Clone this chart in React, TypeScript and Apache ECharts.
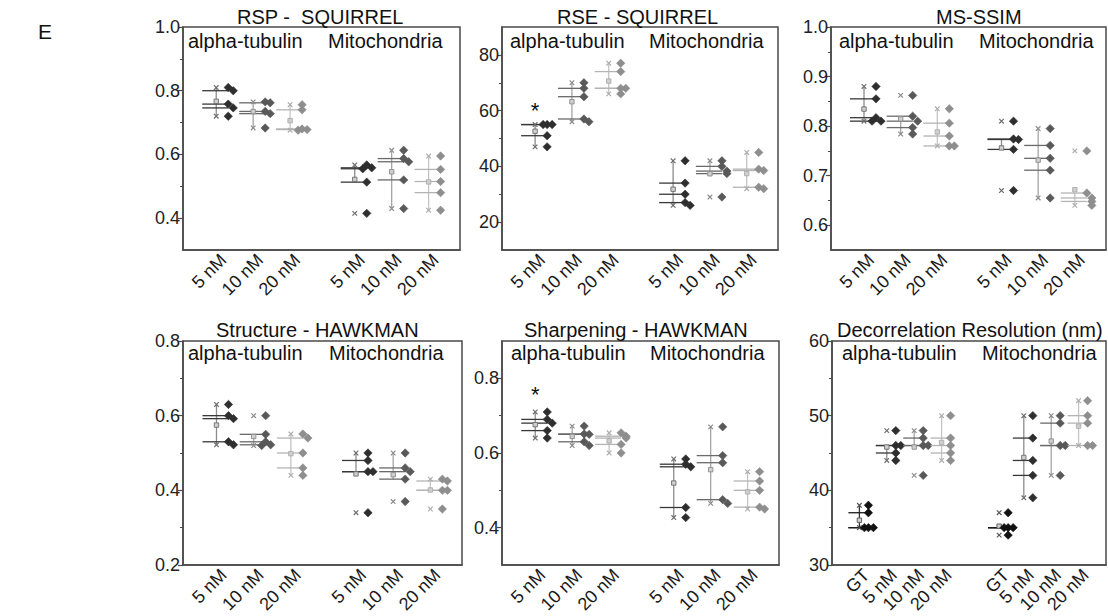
import React, { useEffect, useRef } from 'react';
import * as echarts from 'echarts';

const FONT = '"Liberation Sans", Arial, Helvetica, sans-serif';

// ---------- categories / labels ----------
const concLabels = ['5 nM', '10 nM', '20 nM', '5 nM', '10 nM', '20 nM'];
const decorLabels = ['GT', '5 nM', '10 nM', '20 nM', 'GT', '5 nM', '10 nM', '20 nM'];
const groupNames = ['alpha-tubulin', 'Mitochondria'];
const panelTitles = [
  'RSP -  SQUIRREL',
  'RSE - SQUIRREL',
  'MS-SSIM',
  'Structure - HAWKMAN',
  'Sharpening - HAWKMAN',
  'Decorrelation Resolution (nm)',
];

// ---------- values (order: alpha 5/10/20 nM, mito 5/10/20 nM) ----------
const rspSquirrel = [
  [0.81, 0.8, 0.758, 0.746, 0.72],
  [0.765, 0.762, 0.735, 0.728, 0.683],
  [0.756, 0.74, 0.68, 0.678, 0.676],
  [0.567, 0.558, 0.555, 0.513, 0.415],
  [0.613, 0.587, 0.577, 0.52, 0.43],
  [0.595, 0.553, 0.515, 0.48, 0.425],
];
const rseSquirrel = [
  [55, 55, 55, 51, 47],
  [70, 68, 65, 57, 56],
  [77, 74, 68, 68, 66],
  [42, 34, 30, 27, 26],
  [42, 40, 38.3, 37.4, 29],
  [45, 39, 38.5, 32.5, 32],
];
const msSsim = [
  [0.88, 0.855, 0.817, 0.81, 0.81],
  [0.862, 0.82, 0.81, 0.797, 0.784],
  [0.835, 0.806, 0.78, 0.76, 0.76],
  [0.81, 0.774, 0.773, 0.753, 0.67],
  [0.795, 0.761, 0.735, 0.711, 0.655],
  [0.75, 0.665, 0.655, 0.648, 0.64],
];
const structureHawkman = [
  [0.63, 0.6, 0.592, 0.53, 0.522],
  [0.6, 0.55, 0.53, 0.522, 0.52],
  [0.551, 0.54, 0.5, 0.46, 0.44],
  [0.5, 0.48, 0.45, 0.45, 0.34],
  [0.5, 0.46, 0.45, 0.43, 0.37],
  [0.43, 0.425, 0.4, 0.4, 0.35],
];
const sharpeningHawkman = [
  [0.71, 0.69, 0.68, 0.66, 0.64],
  [0.672, 0.651, 0.65, 0.63, 0.62],
  [0.654, 0.645, 0.64, 0.623, 0.6],
  [0.584, 0.57, 0.563, 0.454, 0.427],
  [0.67, 0.593, 0.574, 0.475, 0.465],
  [0.55, 0.525, 0.5, 0.455, 0.45],
];
// order: alpha GT/5/10/20 nM, mito GT/5/10/20 nM
const decorrelationResolution = [
  [38, 37, 35, 35, 35],
  [48, 46, 46, 45, 44],
  [48, 47, 46, 46, 42],
  [50, 47, 46, 45, 44],
  [37, 35, 35, 35, 34],
  [50, 47, 44, 42, 39],
  [50, 49, 46, 46, 42],
  [52, 50, 49, 46, 46],
];

// significance markers: [group index, value]
const rseStar = [0, 61.5];
const sharpeningStar = [0, 0.767];

// ---------- tick labels ----------
const rspTicks = [0.4, 0.6, 0.8, 1.0];
const rspMinor = [0.5, 0.7, 0.9];
const rseTicks = [20, 40, 60, 80];
const rseMinor = [30, 50, 70];
const ssimTicks = [0.6, 0.7, 0.8, 0.9, 1.0];
const ssimMinor = [0.65, 0.75, 0.85, 0.95];
const structTicks = [0.2, 0.4, 0.6, 0.8];
const structMinor = [0.3, 0.5, 0.7];
const sharpTicks = [0.4, 0.6, 0.8];
const sharpMinor = [0.5, 0.7];
const decorTicks = [30, 40, 50, 60];
const decorMinor = [35, 45, 55];

// ---------- layout / style ----------
const POS6 = [0.9, 1.9, 2.9, 4.65, 5.65, 6.65];
const POS8 = [1, 2, 3, 4, 6.1, 7, 8, 9];
const SHADE6 = [0, 1, 2, 0, 1, 2];
const SHADE8 = [3, 0, 1, 2, 3, 0, 1, 2];

const shades = [
  { dot: '#2e2e2e', hline: '#383838', whisk: '#8c8c8c', mark: '#6e6e6e' },
  { dot: '#595959', hline: '#6a6a6a', whisk: '#a5a5a5', mark: '#8c8c8c' },
  { dot: '#8e8e8e', hline: '#b4b4b4', whisk: '#c4c4c4', mark: '#adadad' },
  { dot: '#111111', hline: '#1a1a1a', whisk: '#333333', mark: '#555555' },
];

const TOP_ROW = 27;
const BOT_ROW = 341;

const panels = [
  {
    values: rspSquirrel, labels: concLabels, positions: POS6, shade: SHADE6,
    grid: { left: 183, top: TOP_ROW, width: 277, height: 223 },
    yMin: 0.3, yMax: 1.0, majors: rspTicks, minors: rspMinor, dec: 1, xMax: 7.5,
    titleX: 237, titleY: 17, gx: [188, 328], gy: 40.5, star: null,
    lineL: 14, lineR: 12, dotOff: 12,
  },
  {
    values: rseSquirrel, labels: concLabels, positions: POS6, shade: SHADE6,
    grid: { left: 502, top: TOP_ROW, width: 276, height: 223 },
    yMin: 10, yMax: 90, majors: rseTicks, minors: rseMinor, dec: 0, xMax: 7.5,
    titleX: 557, titleY: 17, gx: [510, 649], gy: 40.5, star: rseStar,
    lineL: 14, lineR: 12, dotOff: 12,
  },
  {
    values: msSsim, labels: concLabels, positions: POS6, shade: SHADE6,
    grid: { left: 831, top: TOP_ROW, width: 275, height: 223 },
    yMin: 0.55, yMax: 1.0, majors: ssimTicks, minors: ssimMinor, dec: 1, xMax: 7.5,
    titleX: 936, titleY: 17, gx: [839, 979], gy: 40.5, star: null,
    lineL: 14, lineR: 12, dotOff: 12,
  },
  {
    values: structureHawkman, labels: concLabels, positions: POS6, shade: SHADE6,
    grid: { left: 183, top: BOT_ROW, width: 279, height: 224 },
    yMin: 0.2, yMax: 0.8, majors: structTicks, minors: structMinor, dec: 1, xMax: 7.5,
    titleX: 216, titleY: 330, gx: [188, 329], gy: 352.5, star: null,
    lineL: 14, lineR: 12, dotOff: 12,
  },
  {
    values: sharpeningHawkman, labels: concLabels, positions: POS6, shade: SHADE6,
    grid: { left: 502, top: BOT_ROW, width: 277, height: 224 },
    yMin: 0.3, yMax: 0.9, majors: sharpTicks, minors: sharpMinor, dec: 1, xMax: 7.5,
    titleX: 524, titleY: 330, gx: [511, 650], gy: 352.5, star: sharpeningStar,
    lineL: 14, lineR: 12, dotOff: 12,
  },
  {
    values: decorrelationResolution, labels: decorLabels, positions: POS8, shade: SHADE8,
    grid: { left: 832, top: BOT_ROW, width: 274, height: 224 },
    yMin: 30, yMax: 60, majors: decorTicks, minors: decorMinor, dec: 0, xMax: 10,
    titleX: 837, titleY: 330, gx: [842, 982], gy: 352.5, star: null,
    lineL: 11, lineR: 10, dotOff: 9,
  },
];

function stats(vals: number[]) {
  const s = [...vals].sort((a, b) => a - b);
  const q = (p: number) => {
    const i = (s.length - 1) * p;
    const lo = Math.floor(i);
    const hi = Math.ceil(i);
    return s[lo] + (s[hi] - s[lo]) * (i - lo);
  };
  const q1 = q(0.25);
  const med = q(0.5);
  const q3 = q(0.75);
  const iqr = q3 - q1;
  const inside = s.filter((v) => v >= q1 - 1.5 * iqr - 1e-9 && v <= q3 + 1.5 * iqr + 1e-9);
  return {
    q1, med, q3,
    wlo: Math.min(...inside),
    whi: Math.max(...inside),
    min: s[0],
    max: s[s.length - 1],
    mean: s.reduce((a, b) => a + b, 0) / s.length,
  };
}

function textStyle(text: string, size: number, align: string, fill = '#111') {
  return {
    text,
    font: `${size}px ${FONT}`,
    fontSize: size,
    fontFamily: FONT,
    fill,
    align,
    verticalAlign: 'middle',
    textAlign: align,
    textVerticalAlign: 'middle',
  };
}

function makeRender(panel: any) {
  return (params: any, api: any) => {
    const gi = api.value(0);
    const vals: number[] = panel.values[gi];
    const pos = panel.positions[gi];
    const sh = shades[panel.shade[gi]];
    const st = stats(vals);
    const P = (v: number) => api.coord([pos, v]);
    const cx = P(st.med)[0];
    const children: any[] = [];

    // whisker
    children.push({
      type: 'line',
      shape: { x1: cx, y1: P(st.wlo)[1], x2: cx, y2: P(st.whi)[1] },
      style: { stroke: sh.whisk, lineWidth: 1.3 },
    });
    // quartile / median lines
    [st.q1, st.med, st.q3].forEach((v) => {
      const y = P(v)[1];
      children.push({
        type: 'line',
        shape: { x1: cx - panel.lineL, y1: y, x2: cx + panel.lineR, y2: y },
        style: { stroke: sh.hline, lineWidth: 1.3 },
      });
    });
    // min / max crosses
    [st.min, st.max].forEach((v) => {
      const y = P(v)[1];
      const r = 2.3;
      children.push(
        { type: 'line', shape: { x1: cx - r, y1: y - r, x2: cx + r, y2: y + r }, style: { stroke: sh.mark, lineWidth: 1.2 } },
        { type: 'line', shape: { x1: cx - r, y1: y + r, x2: cx + r, y2: y - r }, style: { stroke: sh.mark, lineWidth: 1.2 } },
      );
    });
    // mean square
    const my = P(st.mean)[1];
    children.push({
      type: 'rect',
      shape: { x: cx - 2.2, y: my - 2.2, width: 4.4, height: 4.4 },
      style: { fill: '#cfcfcf', stroke: sh.mark, lineWidth: 0.9 },
    });
    // points
    const placed: number[] = [];
    vals.forEach((v) => {
      const y = P(v)[1];
      const k = placed.filter((py) => Math.abs(py - y) < 5).length;
      placed.push(y);
      const dx = panel.dotOff + (k === 0 ? 0 : k % 2 === 1 ? 5 * Math.ceil(k / 2) : -4 * Math.ceil(k / 2));
      const x = cx + dx;
      const r = 4.2;
      children.push({
        type: 'polygon',
        shape: { points: [[x, y - r], [x + r, y], [x, y + r], [x - r, y]] },
        style: { fill: sh.dot, stroke: sh.dot, lineWidth: 0.6, lineJoin: 'round' },
      });
    });
    // category label
    const axisY = P(panel.yMin)[1];
    children.push({
      type: 'text',
      x: cx + 7,
      y: axisY + 7,
      rotation: Math.PI / 4,
      style: textStyle(panel.labels[gi], 18, 'right', '#1a1a1a'),
    });
    // significance star
    if (panel.star && panel.star[0] === gi) {
      const sy = P(panel.star[1])[1];
      children.push({
        type: 'text',
        x: cx,
        y: sy + 4,
        style: textStyle('*', 22, 'center', '#111'),
      });
    }
    return { type: 'group', children };
  };
}

function buildOption() {
  const grid: any[] = [];
  const xAxis: any[] = [];
  const yAxis: any[] = [];
  const series: any[] = [];
  const graphic: any[] = [];

  panels.forEach((p, i) => {
    grid.push({
      ...p.grid,
      show: true,
      borderColor: '#4a4a4a',
      borderWidth: 1.5,
      backgroundColor: 'transparent',
    });
    xAxis.push({
      gridIndex: i,
      type: 'value',
      min: 0,
      max: p.xMax,
      axisLine: { show: true, lineStyle: { color: '#4a4a4a', width: 1.5 } },
      axisTick: { show: false },
      axisLabel: { show: false },
      splitLine: { show: false },
    });
    yAxis.push({
      gridIndex: i,
      type: 'value',
      position: 'left',
      min: p.yMin,
      max: p.yMax,
      axisLine: { show: true, lineStyle: { color: '#4a4a4a', width: 1.5 } },
      axisTick: { show: true, length: 5, lineStyle: { color: '#4a4a4a', width: 1.2 }, customValues: p.majors },
      axisLabel: {
        show: true,
        customValues: p.majors,
        formatter: (v: number) => v.toFixed(p.dec),
        color: '#222',
        fontSize: 18,
        fontFamily: FONT,
        margin: 3,
      },
      splitLine: { show: false },
    });
    yAxis.push({
      gridIndex: i,
      type: 'value',
      position: 'left',
      offset: 0,
      min: p.yMin,
      max: p.yMax,
      axisLine: { show: false },
      axisTick: { show: true, length: 3, lineStyle: { color: '#4a4a4a', width: 1 }, customValues: p.minors },
      axisLabel: { show: false },
      splitLine: { show: false },
    });
    series.push({
      type: 'custom',
      xAxisIndex: i,
      yAxisIndex: i * 2,
      clip: false,
      renderItem: makeRender(p),
      data: p.values.map((_: any, gi: number) => [gi, p.yMin]),
      silent: true,
    });
    graphic.push({
      type: 'text',
      x: p.titleX,
      y: p.titleY,
      style: textStyle(panelTitles[i], 20, 'left', '#111'),
    });
    groupNames.forEach((g, k) => {
      graphic.push({
        type: 'text',
        x: p.gx[k],
        y: p.gy,
        style: textStyle(g, 20, 'left', '#111'),
      });
    });
  });

  graphic.push({
    type: 'text',
    x: 38,
    y: 31,
    style: textStyle('E', 21, 'left', '#111'),
  });

  return {
    animation: false,
    backgroundColor: '#ffffff',
    grid,
    xAxis,
    yAxis,
    series,
    graphic,
  };
}

export default function App() {
  const ref = useRef<HTMLDivElement>(null);
  useEffect(() => {
    if (!ref.current) return;
    const chart = echarts.init(ref.current, undefined, { renderer: 'svg' });
    chart.setOption(buildOption() as any);
    return () => chart.dispose();
  }, []);
  return (
    <div
      ref={ref}
      style={{ position: 'fixed', left: 0, top: 0, width: 1108, height: 616, background: '#fff' }}
    />
  );
}
